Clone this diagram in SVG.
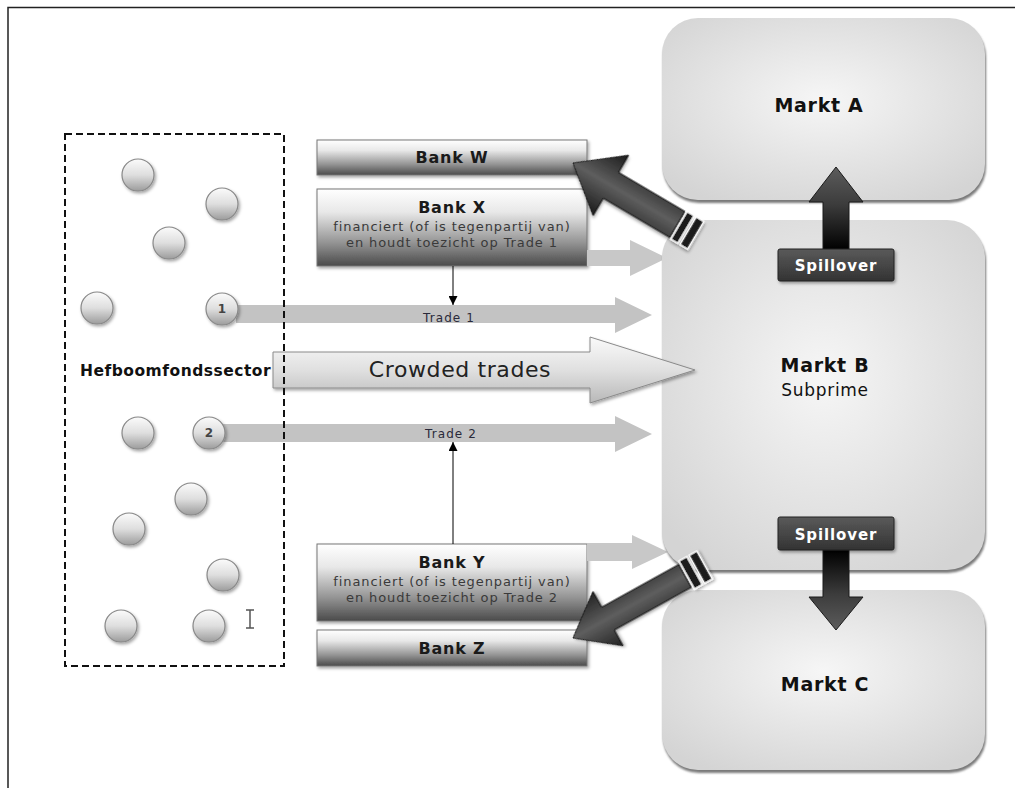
<svg xmlns="http://www.w3.org/2000/svg" width="1015" height="788" viewBox="0 0 1015 788">
  <style>
    .bank-title { font-family: "DejaVu Sans", Verdana, sans-serif; font-weight: bold; font-size: 16px; letter-spacing: 0.8px; fill: #1a1a1a; text-anchor: middle; }
    .bank-sub { font-family: "DejaVu Sans", Verdana, sans-serif; font-size: 13px; letter-spacing: 0.9px; fill: #3a3a3a; text-anchor: middle; }
    .market-title { font-family: "DejaVu Sans", Verdana, sans-serif; font-weight: bold; font-size: 19px; letter-spacing: 0.7px; fill: #111; text-anchor: middle; }
    .market-sub { font-family: "DejaVu Sans", Verdana, sans-serif; font-size: 17px; letter-spacing: 0.7px; fill: #111; text-anchor: middle; }
    .spill { font-family: "DejaVu Sans", Verdana, sans-serif; font-weight: bold; font-size: 15px; letter-spacing: 0.9px; fill: #fff; text-anchor: middle; }
    .trade { font-family: "DejaVu Sans", Verdana, sans-serif; font-size: 12px; letter-spacing: 1.1px; fill: #2a2a3a; text-anchor: middle; }
    .num { font-family: "DejaVu Sans", Verdana, sans-serif; font-weight: bold; font-size: 12px; fill: #444; text-anchor: middle; }
    .sector { font-family: "DejaVu Sans", Verdana, sans-serif; font-weight: bold; font-size: 15.5px; letter-spacing: 0.5px; fill: #111; }
    .crowd { font-family: "DejaVu Sans", Verdana, sans-serif; font-size: 22px; letter-spacing: 0.6px; fill: #222; text-anchor: middle; }
    .bank-box { fill: url(#bankGrad); stroke: #777; stroke-width: 1; filter: url(#shadow); }
    .market-shadow { fill: #7a7a7a; }
    .market-box { fill: url(#marketGrad); }
    .fund { fill: url(#fundGrad); stroke: #888; stroke-width: 1.2; filter: url(#shadow); }
    .trade-band { fill: #c3c3c3; }
    .feed { fill: #c8c8c8; }
    .spill-box { fill: url(#spillBoxGrad); stroke: #222; stroke-width: 1; filter: url(#shadow); }
    .link { stroke: #000; stroke-width: 1; fill: none; marker-end: url(#tip); }
    .stripe { fill: #1e1e1e; stroke: #fff; stroke-width: 1.5; }
  </style>
  <defs>
    <filter id="shadow" x="-20%" y="-20%" width="150%" height="160%">
      <feDropShadow dx="1.5" dy="2" stdDeviation="1.5" flood-color="#000" flood-opacity="0.35"/>
    </filter>
    <filter id="soft" x="-10%" y="-10%" width="120%" height="120%">
      <feGaussianBlur stdDeviation="1"/>
    </filter>
    <linearGradient id="bankGrad" x1="0" y1="0" x2="0" y2="1">
      <stop offset="0" stop-color="#ffffff"/>
      <stop offset="0.3" stop-color="#e8e8e8"/>
      <stop offset="0.7" stop-color="#939393"/>
      <stop offset="1" stop-color="#4a4a4a"/>
    </linearGradient>
    <radialGradient id="marketGrad" cx="0.5" cy="0.45" r="0.65">
      <stop offset="0" stop-color="#f6f6f6"/>
      <stop offset="1" stop-color="#d4d4d4"/>
    </radialGradient>
    <linearGradient id="fundGrad" x1="0" y1="0" x2="0" y2="1">
      <stop offset="0" stop-color="#fbfbfb"/>
      <stop offset="0.5" stop-color="#dedede"/>
      <stop offset="1" stop-color="#9c9c9c"/>
    </linearGradient>
    <linearGradient id="crowdGrad" x1="0" y1="0" x2="0" y2="1">
      <stop offset="0" stop-color="#fafafa"/>
      <stop offset="0.5" stop-color="#e0e0e0"/>
      <stop offset="1" stop-color="#b8b8b8"/>
    </linearGradient>
    <linearGradient id="spillBoxGrad" x1="0" y1="0" x2="0" y2="1">
      <stop offset="0" stop-color="#5a5a5a"/>
      <stop offset="1" stop-color="#333"/>
    </linearGradient>
    <linearGradient id="spillUpGrad" x1="0" y1="167" x2="0" y2="250" gradientUnits="userSpaceOnUse">
      <stop offset="0" stop-color="#5c5c5c"/>
      <stop offset="0.45" stop-color="#3c3c3c"/>
      <stop offset="1" stop-color="#000"/>
    </linearGradient>
    <linearGradient id="spillDownGrad" x1="0" y1="550" x2="0" y2="630" gradientUnits="userSpaceOnUse">
      <stop offset="0" stop-color="#000"/>
      <stop offset="0.55" stop-color="#3c3c3c"/>
      <stop offset="1" stop-color="#5c5c5c"/>
    </linearGradient>
    <linearGradient id="darkArrowGrad" x1="0" y1="-35" x2="0" y2="35" gradientUnits="userSpaceOnUse">
      <stop offset="0" stop-color="#1a1a1a"/>
      <stop offset="0.5" stop-color="#5e5e5e"/>
      <stop offset="1" stop-color="#1a1a1a"/>
    </linearGradient>
    <marker id="tip" viewBox="0 0 10 10" refX="10" refY="5" markerWidth="9" markerHeight="9" markerUnits="userSpaceOnUse" orient="auto">
      <path d="M0,0 L10,5 L0,10 z" fill="#000"/>
    </marker>
  </defs>

  <!-- page frame -->
  <path d="M8,788 L8,7.5 L1015,7.5" fill="none" stroke="#222" stroke-width="1.5"/>

  <!-- hedge funds -->
  <g id="funds">
    <circle class="fund" cx="138" cy="175" r="16"/>
    <circle class="fund" cx="222" cy="204" r="16"/>
    <circle class="fund" cx="169" cy="243" r="16"/>
    <circle class="fund" cx="97" cy="308" r="16"/>
    <circle class="fund" cx="138" cy="433" r="16"/>
    <circle class="fund" cx="191" cy="499" r="16"/>
    <circle class="fund" cx="129" cy="529" r="16"/>
    <circle class="fund" cx="223" cy="575" r="16"/>
    <circle class="fund" cx="121" cy="626" r="16"/>
    <circle class="fund" cx="209" cy="626" r="16"/>
  </g>

  <!-- banks -->
  <g id="bank-w">
    <rect class="bank-box" x="317" y="140" width="270" height="35"/>
    <text class="bank-title" x="452" y="163">Bank W</text>
  </g>
  <g id="bank-x">
    <rect class="bank-box" x="317" y="189" width="270" height="77"/>
    <text class="bank-title" x="452" y="213">Bank X</text>
    <text class="bank-sub" x="452" y="231">financiert (of is tegenpartij van)</text>
    <text class="bank-sub" x="452" y="247">en houdt toezicht op Trade 1</text>
  </g>
  <g id="bank-y">
    <rect class="bank-box" x="317" y="544" width="270" height="77"/>
    <text class="bank-title" x="452" y="568">Bank Y</text>
    <text class="bank-sub" x="452" y="586">financiert (of is tegenpartij van)</text>
    <text class="bank-sub" x="452" y="602">en houdt toezicht op Trade 2</text>
  </g>
  <g id="bank-z">
    <rect class="bank-box" x="317" y="630" width="270" height="36"/>
    <text class="bank-title" x="452" y="654">Bank Z</text>
  </g>

  <!-- light feed arrows from banks X and Y run under market B -->
  <path class="feed" d="M587,250 L630,250 L630,240 L667,258 L630,276 L630,266 L587,266 Z"/>
  <path class="feed" d="M587,543 L632,543 L632,535 L668,552 L632,569 L632,561 L587,561 Z"/>

  <!-- markets -->
  <g id="markt-a">
    <rect class="market-shadow" x="663" y="21" width="323" height="182" rx="36" filter="url(#soft)"/>
    <rect class="market-box" x="662" y="18" width="323" height="182" rx="36"/>
    <text class="market-title" x="819" y="112">Markt A</text>
  </g>
  <g id="markt-b">
    <rect class="market-shadow" x="663" y="223" width="323" height="350" rx="38" filter="url(#soft)"/>
    <rect class="market-box" x="662" y="220" width="323" height="350" rx="38"/>
    <text class="market-title" x="825" y="372">Markt B</text>
    <text class="market-sub" x="825" y="396">Subprime</text>
  </g>
  <g id="markt-c">
    <rect class="market-shadow" x="663" y="593" width="323" height="180" rx="36" filter="url(#soft)"/>
    <rect class="market-box" x="662" y="590" width="323" height="180" rx="36"/>
    <text class="market-title" x="825" y="691">Markt C</text>
  </g>

  <!-- connectors -->
  <g id="connectors">
    <!-- Trade 1 -->
    <path class="trade-band" d="M236,305 L615,305 L615,297 L652,315 L615,333 L615,323 L236,323 Z"/>
    <text class="trade" x="449" y="322">Trade 1</text>
    <!-- Trade 2 -->
    <path class="trade-band" d="M223,424 L615,424 L615,416 L652,434 L615,452 L615,442 L223,442 Z"/>
    <text class="trade" x="451" y="438">Trade 2</text>
    <!-- crowded trades -->
    <path d="M273,352 L590,352 L590,337 L695,370 L590,403 L590,388 L273,388 Z" fill="url(#crowdGrad)" stroke="#8a8a8a" stroke-width="1" filter="url(#shadow)"/>
    <text class="crowd" x="460" y="377">Crowded trades</text>
    <!-- supervision links -->
    <line class="link" x1="453" y1="266" x2="453" y2="305"/>
    <line class="link" x1="453" y1="544" x2="453" y2="442"/>
    <!-- market B towards bank W -->
    <g transform="translate(573,163) rotate(30.5)" filter="url(#shadow)">
      <path d="M0,0 L44,-35 L44,-15 L121,-15 L121,15 L44,15 L44,35 Z" fill="url(#darkArrowGrad)" stroke="#111" stroke-width="1"/>
      <rect class="stripe" x="123" y="-16" width="8" height="32"/>
      <rect class="stripe" x="133.5" y="-16" width="9" height="32"/>
    </g>
    <!-- market B towards bank Z -->
    <g transform="translate(573,638) rotate(-29)" filter="url(#shadow)">
      <path d="M0,0 L40,-31 L40,-13 L128,-13 L128,13 L40,13 L40,31 Z" fill="url(#darkArrowGrad)" stroke="#111" stroke-width="1"/>
      <rect class="stripe" x="130" y="-16" width="9" height="32"/>
      <rect class="stripe" x="141.5" y="-16" width="9" height="32"/>
    </g>
    <!-- spillover arrows -->
    <path d="M823,250 L823,202 L809,202 L836,167 L863,202 L849,202 L849,250 Z" fill="url(#spillUpGrad)" stroke="#1a1a1a" stroke-width="1"/>
    <path d="M823,550 L823,597 L809,597 L836,630 L863,597 L849,597 L849,550 Z" fill="url(#spillDownGrad)" stroke="#1a1a1a" stroke-width="1"/>
  </g>

  <!-- numbered funds at the start of each trade -->
  <g id="fund-1">
    <circle class="fund" cx="222" cy="309" r="16"/>
    <text class="num" x="222" y="313">1</text>
  </g>
  <g id="fund-2">
    <circle class="fund" cx="209" cy="433" r="16"/>
    <text class="num" x="209" y="437">2</text>
  </g>

  <!-- hedge fund sector frame -->
  <g id="sector">
    <rect x="65" y="134" width="219" height="532" fill="none" stroke="#111" stroke-width="2" stroke-dasharray="7,4"/>
    <text class="sector" x="80" y="376">Hefboomfondssector</text>
  </g>

  <!-- spillover labels -->
  <g id="spillover-a">
    <rect class="spill-box" x="778" y="249" width="116" height="32" rx="2"/>
    <text class="spill" x="836" y="271">Spillover</text>
  </g>
  <g id="spillover-c">
    <rect class="spill-box" x="778" y="517" width="116" height="33" rx="2"/>
    <text class="spill" x="836" y="540">Spillover</text>
  </g>

  <!-- text cursor -->
  <path d="M246,610 L254,610 M250,610 L250,628 M246,628 L254,628" stroke="#555" stroke-width="1.5" fill="none"/>
</svg>
